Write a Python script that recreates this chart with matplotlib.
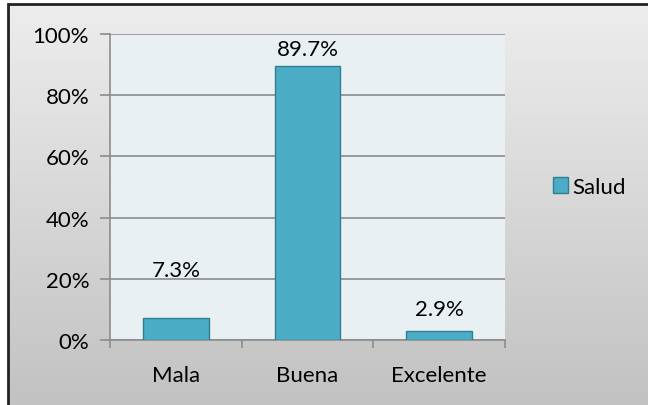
import matplotlib.pyplot as plt
import numpy as np
from matplotlib.patches import Rectangle
from matplotlib.colors import LinearSegmentedColormap

categories = ["Mala", "Buena", "Excelente"]
values = [7.3, 89.7, 2.9]
series_name = "Salud"
yticks = [0, 20, 40, 60, 80, 100]

# baseline height of each data label (the labels were placed by hand)
label_base = [21.0, 93.2, 8.2]

plt.rcParams['font.family'] = ['Lato', 'DejaVu Sans']

fig = plt.figure(figsize=(6.48, 4.06), dpi=100)
fig.patch.set_facecolor("white")

# chart area: gray gradient with a dark frame, cut off at right and bottom
x0, y0 = 8 / 648, 5 / 406
bg = fig.add_axes([x0, 0, 1 - x0, 1 - y0], zorder=0)
grad = np.linspace(0, 1, 256).reshape(-1, 1)
cmap = LinearSegmentedColormap.from_list("g", ["#ededed", "#c2c2c2"])
bg.imshow(grad, aspect="auto", cmap=cmap, extent=[0, 1, 1, 0])
bg.set_xlim(0, 1)
bg.set_ylim(1, 0)
bg.axis("off")
bg.add_patch(Rectangle((0, -0.2), 1.2, 1.2, fill=False, edgecolor="#222222",
                       linewidth=2, transform=bg.transAxes, clip_on=False))

ax = fig.add_axes([110 / 648, 1 - 341 / 406, 395 / 648, 306 / 406], zorder=1)
ax.set_facecolor("#e8f0f4")

x = np.arange(len(categories))
ax.bar(x, values, width=0.5, color="#4bacc6", edgecolor="#357d91",
       linewidth=1, label=series_name, zorder=3)
for xi, v, yb in zip(x, values, label_base):
    ax.text(xi, yb, f"{v}%", ha="center", va="baseline", fontsize=16, zorder=4)

ax.set_xlim(-0.5, len(categories) - 0.5)
ax.set_ylim(0, 100)
ax.set_yticks(yticks)
ax.set_yticklabels([f"{t}%" for t in yticks], fontsize=16)
ax.yaxis.grid(True, color="#8c8c8c", linewidth=1.2, zorder=1)
ax.set_axisbelow(True)

ax.set_xticks(x)
ax.set_xticklabels(categories, fontsize=16)
ax.set_xticks(np.arange(len(categories) + 1) - 0.5, minor=True)
ax.tick_params(axis="x", which="major", length=0, pad=18)
ax.tick_params(axis="x", which="minor", length=6, color="#8c8c8c", width=1.2)
ax.tick_params(axis="y", length=7, color="#8c8c8c", width=1.2, pad=8)

for side in ["top", "right"]:
    ax.spines[side].set_visible(False)
for side in ["left", "bottom"]:
    ax.spines[side].set_color("#8c8c8c")
    ax.spines[side].set_linewidth(1.2)

ax.legend(loc="center left", bbox_to_anchor=(1.07, 0.5), frameon=False,
          fontsize=16, handlelength=0.7, handleheight=0.7, handletextpad=0.2)

fig.savefig("out.png", dpi=100)
